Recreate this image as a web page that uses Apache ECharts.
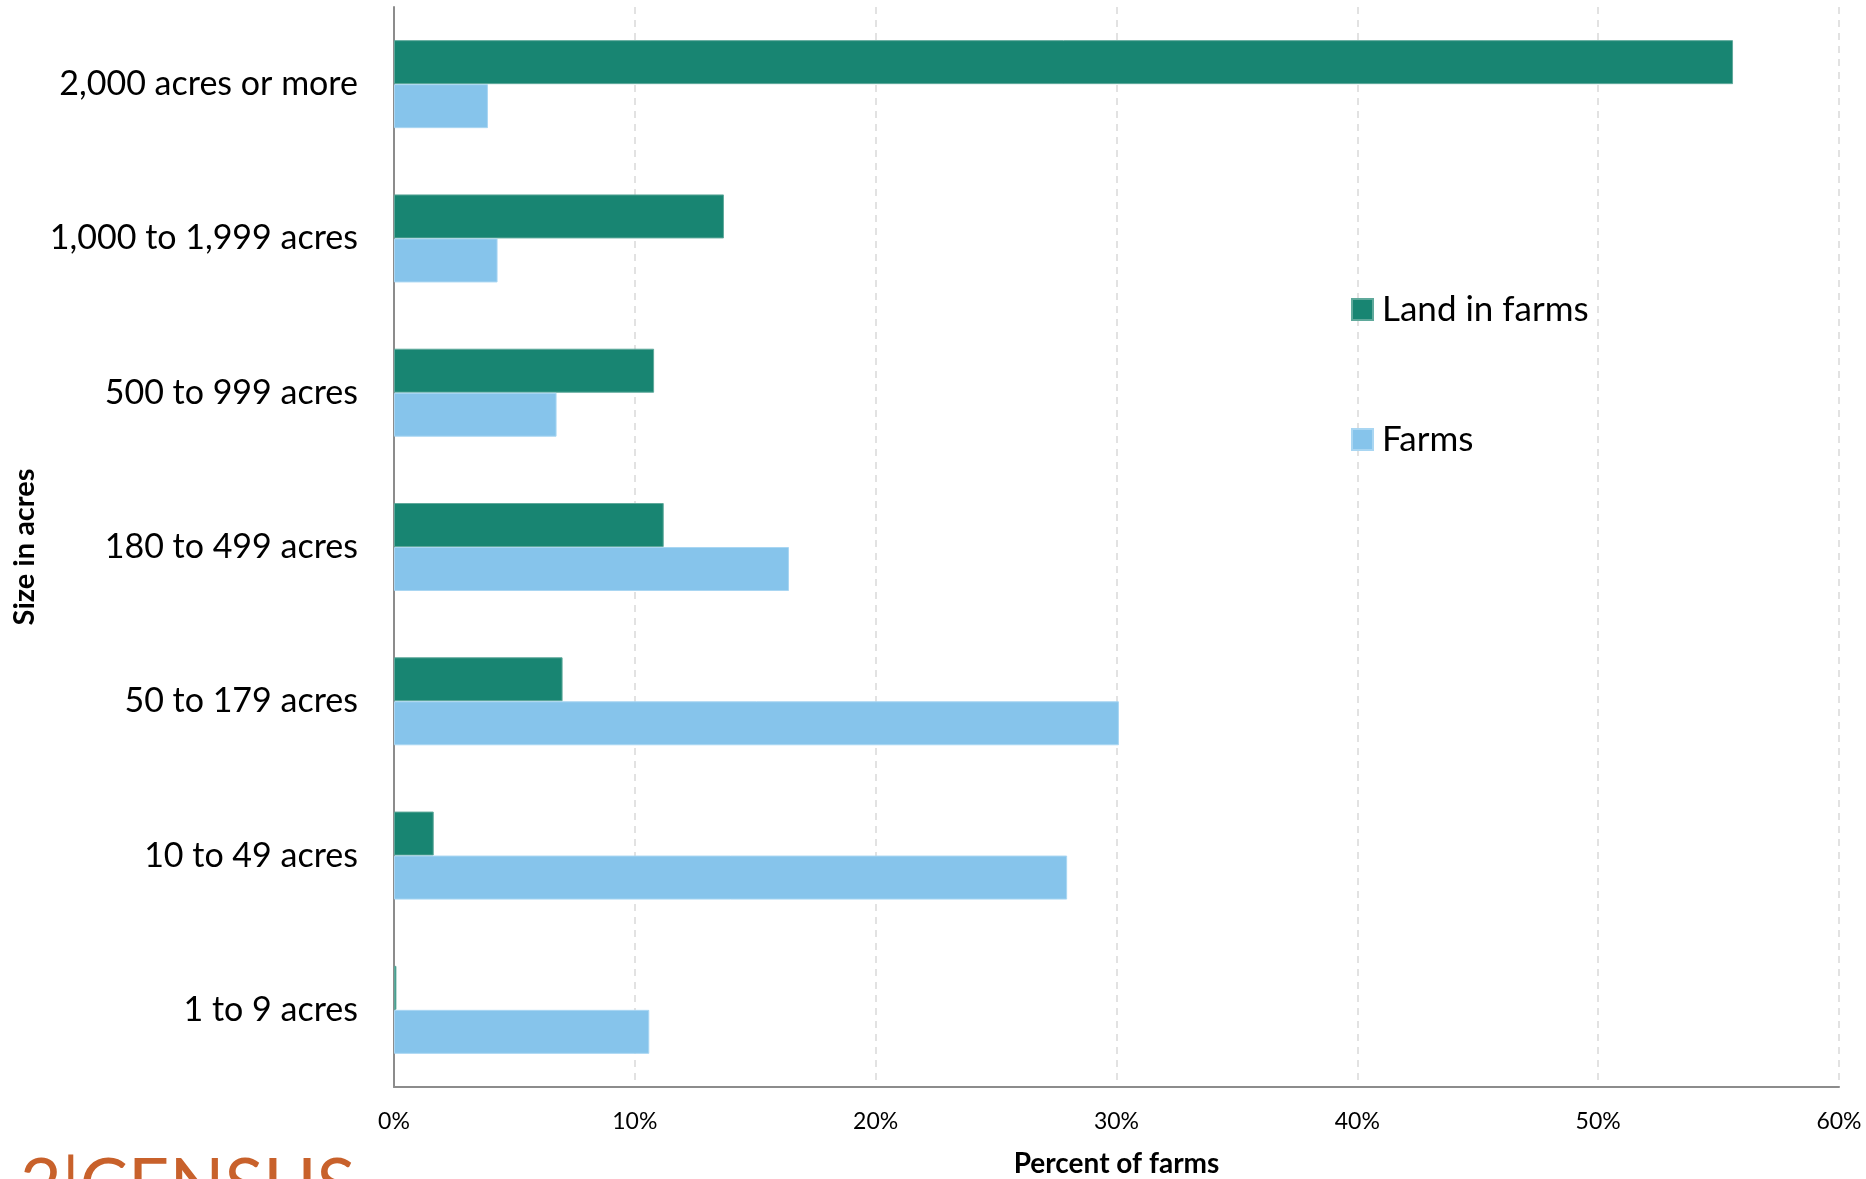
<!DOCTYPE html>
<html>
<head>
<meta charset="utf-8">
<script src="https://cdn.jsdelivr.net/npm/echarts@6/dist/echarts.min.js"></script>
<style>
  html, body { margin: 0; padding: 0; background: #ffffff; }
  #chart { width: 1866px; height: 1179px; }
</style>
</head>
<body>
<div id="chart"></div>
<script>
// Categories listed bottom to top (ECharts category y axis starts at the bottom)
const categories = [
  '1 to 9 acres',
  '10 to 49 acres',
  '50 to 179 acres',
  '180 to 499 acres',
  '500 to 999 acres',
  '1,000 to 1,999 acres',
  '2,000 acres or more'
];
const landInFarms = [0.1, 1.65, 7.0, 11.2, 10.8, 13.7, 55.6];
const farms = [10.6, 27.95, 30.1, 16.4, 6.75, 4.3, 3.9];
const xTicks = [0, 10, 20, 30, 40, 50, 60];

const FONT = 'Lato, "Noto Sans", sans-serif';
const chart = echarts.init(document.getElementById('chart'), null, { renderer: 'canvas' });

chart.setOption({
  backgroundColor: '#ffffff',
  animation: false,
  grid: { left: 394, right: 27, top: 7, bottom: 92, containLabel: false, outerBoundsMode: 'none' },
  legend: {
    data: ['Land in farms', 'Farms'],
    orient: 'vertical',
    left: 1351,
    top: 292,
    padding: 0,
    icon: 'rect',
    itemWidth: 21,
    itemHeight: 21,
    itemGap: 95,
    textStyle: { fontFamily: FONT, fontSize: 35, color: '#000', lineHeight: 35, padding: [0, 0, 0, 4] }
  },
  xAxis: {
    type: 'value',
    min: xTicks[0],
    max: xTicks[xTicks.length - 1],
    interval: 10,
    name: 'Percent of farms',
    nameLocation: 'middle',
    nameGap: 63,
    nameTextStyle: { fontFamily: FONT, fontSize: 28, fontWeight: 'bold', color: '#000' },
    axisLine: { show: true, lineStyle: { color: '#8c8c8c', width: 2 } },
    axisTick: { show: false },
    axisLabel: {
      fontFamily: FONT, fontSize: 23, color: '#000', margin: 23,
      formatter: v => v + '%'
    },
    splitLine: { show: true, lineStyle: { color: '#d9d9d9', width: 1.5, type: [7, 6] } }
  },
  yAxis: {
    type: 'category',
    data: categories,
    name: 'Size in acres',
    nameLocation: 'middle',
    nameGap: 355,
    nameTextStyle: { fontFamily: FONT, fontSize: 29, fontWeight: 'bold', color: '#000' },
    axisLine: { show: true, lineStyle: { color: '#8c8c8c', width: 2 } },
    axisTick: { show: false },
    axisLabel: { fontFamily: FONT, fontSize: 34, color: '#000', margin: 36 },
    splitLine: { show: false }
  },
  series: [
    {
      name: 'Land in farms',
      type: 'bar',
      data: landInFarms,
      barWidth: 44,
      barGap: '0%',
      itemStyle: { color: '#188572', borderColor: '#5fa99b', borderWidth: 1 }
    },
    {
      name: 'Farms',
      type: 'bar',
      data: farms,
      barWidth: 44,
      barGap: '0%',
      itemStyle: { color: '#86c4eb', borderColor: '#a9d6f2', borderWidth: 1 }
    }
  ],
  graphic: [
    {
      type: 'text',
      left: 20,
      top: 1151,
      style: {
        text: '2|CENSUS',
        fontFamily: FONT,
        fontSize: 72,
        fontWeight: 'normal',
        fill: '#c8612b'
      },
      silent: true
    }
  ]
});
</script>
</body>
</html>
